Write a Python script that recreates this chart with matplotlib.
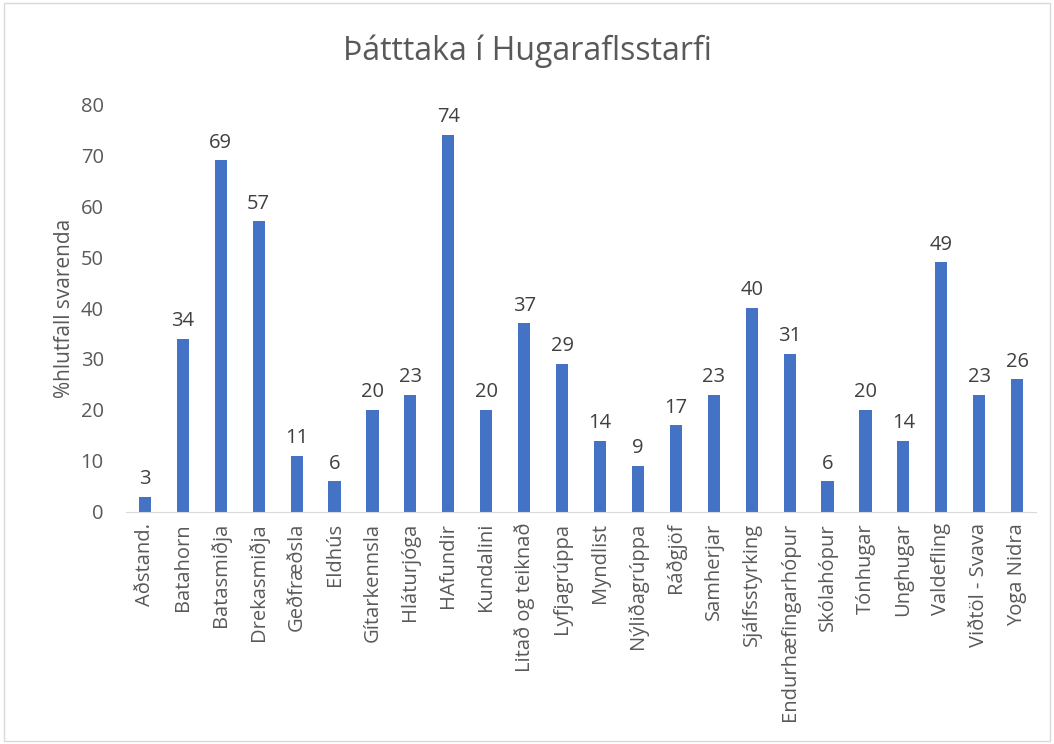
import matplotlib.pyplot as plt
from matplotlib.patches import Rectangle

categories = ["Aðstand.", "Batahorn", "Batasmiðja", "Drekasmiðja", "Geðfræðsla",
              "Eldhús", "Gítarkennsla", "Hláturjóga", "HAfundir", "Kundalini",
              "Litað og teiknað", "Lyfjagrúppa", "Myndlist", "Nýliðagrúppa",
              "Ráðgjöf", "Samherjar", "Sjálfsstyrking", "Endurhæfingarhópur",
              "Skólahópur", "Tónhugar", "Unghugar", "Valdefling", "Viðtöl - Svava",
              "Yoga Nidra"]
values = [3, 34, 69, 57, 11, 6, 20, 23, 74, 20, 37, 29, 14, 9, 17, 23, 40, 31,
          6, 20, 14, 49, 23, 26]

plt.rcParams['font.family'] = ['Open Sans', 'DejaVu Sans']
text_color = "#595959"

fig = plt.figure(figsize=(10.54, 7.44), dpi=100)
ax = fig.add_axes([0.1195, 0.312, 0.8635, 0.548])

# light border round the chart area
fig.patches.append(Rectangle((0.004, 0.004), 0.992, 0.992, transform=fig.transFigure,
                             fill=False, edgecolor="#d9d9d9", linewidth=1))

x = range(len(categories))
bars = ax.bar(x, values, width=0.32, color="#4472C4")

for bar, v in zip(bars, values):
    ax.text(bar.get_x() + bar.get_width() / 2, v + 1.5, str(v),
            ha="center", va="bottom", fontsize=14.5, color="#404040")

ax.set_xlim(-0.5, len(categories) - 0.5)
ax.set_ylim(0, 80)
ax.set_yticks(range(0, 81, 10))
ax.set_xticks(list(x))
ax.set_xticklabels(categories, rotation=90)
ax.tick_params(axis="both", length=0, labelsize=14.5, labelcolor=text_color)
ax.tick_params(axis="y", pad=16)
ax.tick_params(axis="x", pad=8)

for side in ["top", "right", "left"]:
    ax.spines[side].set_visible(False)
ax.spines["bottom"].set_color("#d9d9d9")

ax.set_ylabel("%hlutfall svarenda", fontsize=15, color=text_color, labelpad=4)
fig.text(0.5, 0.931, "Þátttaka í Hugaraflsstarfi", ha="center", va="center",
         fontsize=23, color=text_color)

fig.savefig("out.png", dpi=100)
